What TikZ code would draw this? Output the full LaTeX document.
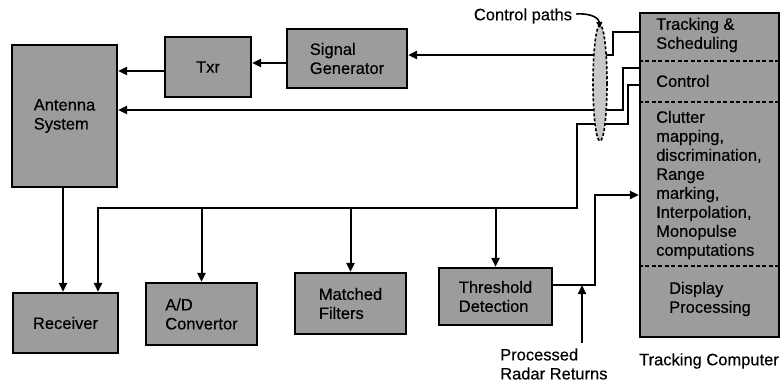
\documentclass[tikz,border=0pt]{standalone}
\usepackage{fontspec}
\setmainfont[FakeBold=0.35]{Liberation Sans}
\usetikzlibrary{arrows.meta}
\definecolor{boxgray}{RGB}{156,156,156}
\definecolor{pathgray}{RGB}{200,200,200}
\begin{document}
\begin{tikzpicture}[x=1pt,y=-1pt,
  txt/.style={font=\fontsize{16.5}{19}\selectfont\addfontfeatures{FakeBold=0.35}, align=left},
  blk/.style={draw=black, line width=2.2pt, fill=boxgray, txt, inner sep=0pt},
  wire/.style={line width=2pt, line join=miter},
  arr/.style={wire, -{Triangle[length=9pt,width=8pt]}}]
  % canvas
  \fill[white] (0,0) rectangle (782,383);
  \useasboundingbox (0,0) rectangle (782,383);

  % processing blocks
  \node[blk, minimum width=105pt, minimum height=142pt] (ant) at (64.5,116) {Antenna\\System};
  \node[blk, minimum width=86pt,  minimum height=60pt]  (txr) at (208,67) {Txr};
  \node[blk, minimum width=120pt, minimum height=59pt]  (sig) at (347,58.5) {Signal\\Generator};
  \node[blk, minimum width=105pt, minimum height=60pt]  (rec) at (65.5,323) {Receiver};
  \node[blk, minimum width=111pt, minimum height=62pt]  (adc) at (201.5,314) {A/D\\Convertor};
  \node[blk, minimum width=111pt, minimum height=61pt]  (mf)  at (350.5,303.5) {Matched\\Filters};
  \node[blk, minimum width=113pt, minimum height=57pt]  (thr) at (495.5,296.5) {Threshold\\Detection};

  % tracking computer with its sections
  \node[blk, minimum width=139pt, minimum height=324pt] (tc) at (709.5,175) {};
  \draw[line width=1.5pt, dash pattern=on 4pt off 2.5pt] (tc.west |- 0,61) -- (tc.east |- 0,61);
  \draw[line width=1.5pt, dash pattern=on 4pt off 2.5pt] (tc.west |- 0,102) -- (tc.east |- 0,102);
  \draw[line width=1.5pt, dash pattern=on 4pt off 2.5pt] (tc.west |- 0,266) -- (tc.east |- 0,266);
  \node[txt, anchor=west, inner sep=0pt] (tsch) at (656,35) {Tracking \&\\Scheduling};
  \node[txt, anchor=west, inner sep=0pt] (tctl) at (656,81) {Control};
  \node[txt, anchor=west, inner sep=0pt] (tclu) at (656,185)
    {Clutter\\mapping,\\discrimination,\\Range\\marking,\\Interpolation,\\Monopulse\\computations};
  \node[txt, inner sep=0pt] (tdsp) at (710,299) {Display\\Processing};
  \node[txt, inner sep=0pt] (tcap) at (709,361) {Tracking Computer};

  % transmit chain
  \draw[arr] (sig.west |- 0,63) -- (txr.east |- 0,63);
  \draw[arr] (txr.west |- 0,71) -- (ant.east |- 0,71);
  \draw[arr] (ant.south -| 63,0) -- (rec.north -| 63,0);

  % control paths from the tracking computer
  \coordinate (c1) at (613,32);
  \coordinate (c2) at (623,68);
  \coordinate (c3) at (628,85);
  \draw[arr] (tc.west |- c1) -- (c1) -- (613,55) -- (sig.east |- 0,55);
  \draw[arr] (tc.west |- c2) -- (c2) -- (623,110) -- (ant.east |- 0,110);
  \coordinate (busR) at (577,208);
  \coordinate (busL) at (98,208);
  \draw[arr] (tc.west |- c3) -- (c3) -- (628,124) -- (577,124) -- (busR) -- (busL) -- (rec.north -| busL);
  \draw[arr] (adc.north |- busR) -- (adc.north);
  \draw[arr] (mf.north |- busR) -- (mf.north);
  \draw[arr] (thr.north |- busR) -- (thr.north);

  % detections back to the tracking computer
  \coordinate (j) at (582,285);
  \draw[arr] (thr.east |- j) -- (595,285) -- (595,195) -- (tc.west |- 0,195);
  \coordinate (ret) at (582,343);
  \draw[arr] (ret) -- (j);
  \node[txt, anchor=west, inner sep=0pt] (rlab) at (500,364) {Processed\\Radar Returns};

  % grouping of the control paths
  \fill[pathgray] (600,83) ellipse [x radius=7, y radius=58];
  \draw[line width=1.6pt, dash pattern=on 3pt off 2pt] (600,83) ellipse [x radius=7, y radius=58];
  \node[txt, inner sep=0pt] (cplab) at (523,16) {Control paths};
  \draw[line width=1.6pt, -{Triangle[length=6pt,width=6pt]}] (cplab.east) ++(4,-2)
     .. controls (593,13) and (599,19) .. (600,28);
\end{tikzpicture}
\end{document}
